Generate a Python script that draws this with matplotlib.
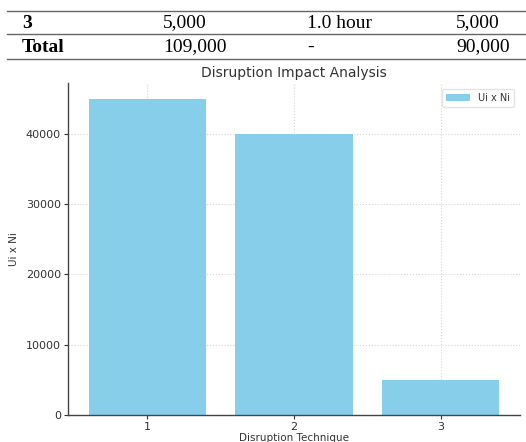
import matplotlib
matplotlib.use("Agg")
import matplotlib.pyplot as plt
from matplotlib.lines import Line2D

# Table rows (document fragment above the chart)
table_row_labels = ["3", "Total"]
table_col2 = ["5,000", "109,000"]
table_col3 = ["1.0 hour", "-"]
table_col4 = ["5,000", "90,000"]

# Chart data
techniques = [1, 2, 3]
ui_x_ni = [45000, 40000, 5000]
yticks = [0, 10000, 20000, 30000, 40000]

W, H = 526, 442
fig = plt.figure(figsize=(W / 100, H / 100), dpi=100)
fig.patch.set_facecolor("white")

def fx(px):
    return px / W

def fy(py):
    return 1 - py / H

# table lines
for ly in [11, 34, 59]:
    fig.add_artist(Line2D([fx(7), fx(526)], [fy(ly), fy(ly)], color="#666666", lw=1.0))

row_y = [23, 47]
serif = "Liberation Serif"
for i in range(2):
    fig.text(fx(22), fy(row_y[i]), table_row_labels[i], family=serif, weight="bold",
             fontsize=14, va="center", ha="left", color="black")
    fig.text(fx(163), fy(row_y[i]), table_col2[i], family=serif, fontsize=14,
             va="center", ha="left", color="black")
    fig.text(fx(307), fy(row_y[i]), table_col3[i], family=serif, fontsize=14,
             va="center", ha="left", color="black")
    fig.text(fx(456), fy(row_y[i]), table_col4[i], family=serif, fontsize=14,
             va="center", ha="left", color="black")

# chart axes
ax = fig.add_axes([fx(68), fy(415), fx(520) - fx(68), fy(83) - fy(415)])
ax.bar(techniques, ui_x_ni, width=0.8, color="skyblue", label="Ui x Ni", zorder=2)
ax.set_xticks(techniques)
ax.set_xticklabels([str(t) for t in techniques])
ax.set_yticks(yticks)
ax.set_yticklabels([str(v) for v in yticks])
ax.grid(True, linestyle=":", color="#d5d5d5", linewidth=0.8, zorder=0)
ax.set_axisbelow(True)
for s in ["top", "right"]:
    ax.spines[s].set_visible(False)
for s in ["left", "bottom"]:
    ax.spines[s].set_color("#444444")
    ax.spines[s].set_linewidth(1.0)
ax.tick_params(axis="both", labelsize=8, colors="#333333", length=3, width=0.8, pad=2)
ax.set_title("Disruption Impact Analysis", fontsize=10, color="#333333", pad=4)
ax.set_xlabel("Disruption Technique", fontsize=7.5, color="#333333", labelpad=1)
ax.set_ylabel("Ui x Ni", fontsize=7.5, color="#333333", labelpad=5)
leg = ax.legend(loc="upper right", fontsize=7, frameon=True, handlelength=2.5,
                borderaxespad=0.6)
leg.get_frame().set_edgecolor("#dddddd")
for t in leg.get_texts():
    t.set_color("#333333")

fig.savefig("out.png", dpi=100, facecolor="white")
